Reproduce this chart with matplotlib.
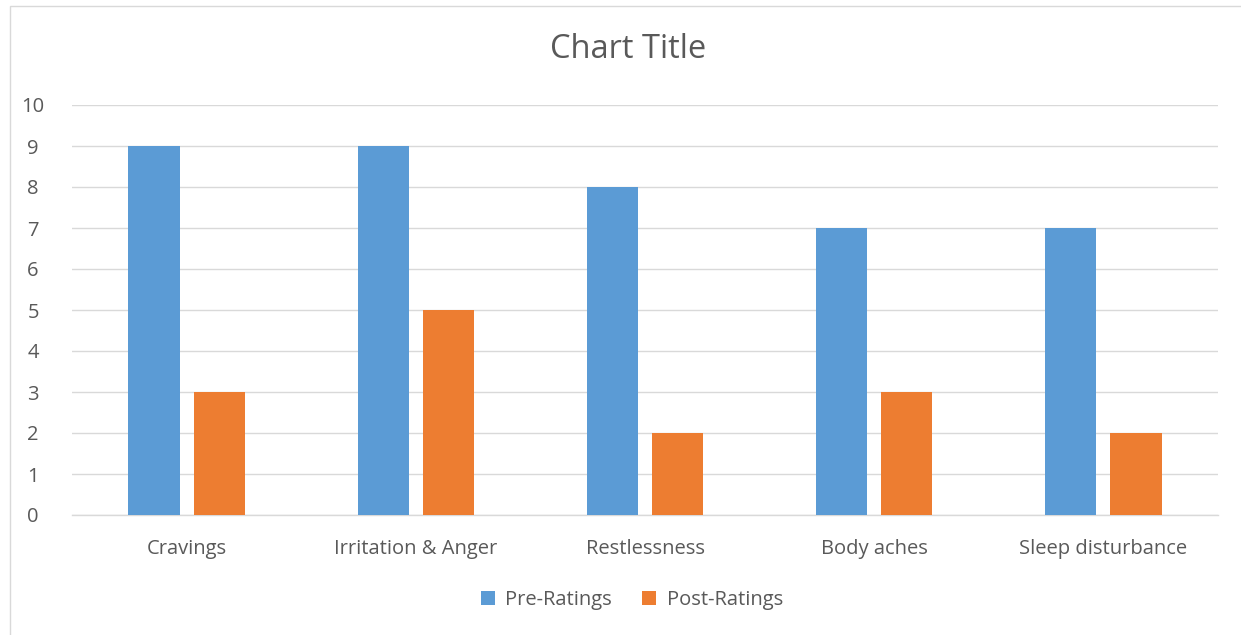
import matplotlib
matplotlib.use("Agg")
import matplotlib.pyplot as plt
from matplotlib.patches import Rectangle
import numpy as np

categories = ["Cravings", "Irritation & Anger", "Restlessness", "Body aches", "Sleep disturbance"]
pre_ratings = [9, 9, 8, 7, 7]
post_ratings = [3, 5, 2, 3, 2]
series_names = ["Pre-Ratings", "Post-Ratings"]
yticks = list(range(0, 11))

plt.rcParams['font.family'] = ['Open Sans', 'DejaVu Sans']

W, H = 1241, 635
fig = plt.figure(figsize=(W / 100, H / 100), dpi=100)
fig.patch.set_facecolor("white")

# chart border
fig.patches.append(Rectangle((10 / W, -0.05), 1.1, 1 - 6 / H + 0.05, transform=fig.transFigure,
                             fill=False, edgecolor="#d9d9d9", linewidth=1.0))

ax = fig.add_axes([72 / W, 1 - 515 / H, (1218 - 72) / W, (515 - 105) / H])
x = np.arange(len(categories))
bw = 0.223
off = 0.142
ax.bar(x - off, pre_ratings, bw, color="#5B9BD5", label=series_names[0], zorder=3)
ax.bar(x + off, post_ratings, bw, color="#ED7D31", label=series_names[1], zorder=3)

ax.set_xlim(-0.5, len(categories) - 0.5)
ax.set_ylim(0, 10)
ax.set_yticks(yticks)
ax.set_yticklabels([str(t) for t in yticks])
ax.set_xticks(x)
ax.set_xticklabels(categories)
ax.grid(axis="y", color="#d9d9d9", linewidth=1.0, zorder=0)
for s in ["top", "right", "left"]:
    ax.spines[s].set_visible(False)
ax.spines["bottom"].set_color("#d9d9d9")
ax.spines["bottom"].set_linewidth(1.0)
ax.tick_params(axis="both", length=0, colors="#595959", labelsize=14.5)
ax.tick_params(axis="x", pad=17)
ax.tick_params(axis="y", pad=28)
for lbl in ax.get_yticklabels():
    lbl.set_horizontalalignment("center")

fig.text(628 / W, 1 - 50 / H, "Chart Title", ha="center", va="center", fontsize=23.5, color="#595959")

leg = fig.legend(loc="center", bbox_to_anchor=(632 / W, 1 - 600 / H), ncol=2, frameon=False,
                 fontsize=14.5, handlelength=0.7, handleheight=0.7, handletextpad=0.5,
                 columnspacing=1.5, labelcolor="#595959")

fig.savefig("out.png", dpi=100, facecolor="white")
